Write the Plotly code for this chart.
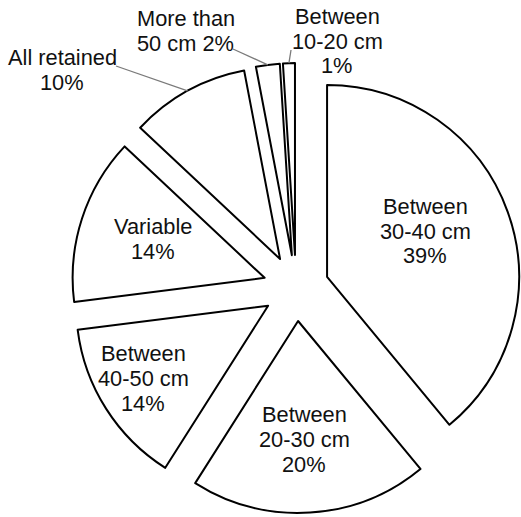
import math
import plotly.graph_objects as go

# Share of respondents by retained length, listed clockwise from 12 o'clock
categories = ["Between 30-40 cm", "Between 20-30 cm", "Between 40-50 cm",
              "Variable", "All retained", "More than 50 cm", "Between 10-20 cm"]
shares = [39, 20, 14, 14, 10, 2, 1]

# How each label is broken into lines (percent appended to the last line part)
label_lines = [
    ["Between", "30-40 cm", "{p}%"],
    ["Between", "20-30 cm", "{p}%"],
    ["Between", "40-50 cm", "{p}%"],
    ["Variable", "{p}%"],
    ["All retained", "{p}%"],
    ["More than", "50 cm {p}%"],
    ["Between", "10-20 cm", "{p}%"],
]

# Figure / pie geometry
W, H = 521, 517
PULL = 0.172
DOM_X = [0.1363, 1.0]
DOM_Y = [0.0, 0.8857]
FONT = "Liberation Sans, Arial, sans-serif"
FS = 21.8
LINE_GAP = 25

# Label block centres (pixels) and which labels sit outside with a leader line
label_pos = [(425, 231), (304, 439), (143, 378), (153, 239),
             (62, 70), (186, 31), (337, 41)]
leader_start = {4: (116, 66), 5: (233, 49), 6: (291, 50)}

fig = go.Figure(go.Pie(
    labels=categories,
    values=shares,
    sort=False,
    direction="clockwise",
    rotation=0,
    pull=[PULL] * len(shares),
    textinfo="none",
    hoverinfo="label+percent",
    marker=dict(colors=["white"] * len(shares),
                line=dict(color="black", width=2)),
    domain=dict(x=DOM_X, y=DOM_Y),
    showlegend=False,
))

# Pie centre and radius as plotly lays them out
cx = W * (DOM_X[0] + DOM_X[1]) / 2
cy = H * (1 - (DOM_Y[0] + DOM_Y[1]) / 2)
r = min(W * (DOM_X[1] - DOM_X[0]), H * (DOM_Y[1] - DOM_Y[0])) / (2 + 2 * PULL)

total = sum(shares)
cum = 0
annotations = []
shapes = []
for i, v in enumerate(shares):
    mid = 2 * math.pi * (cum + v / 2) / total
    cum += v
    lines = [s.format(p=v) for s in label_lines[i]]
    bx, by = label_pos[i]
    n = len(lines)
    for k, line in enumerate(lines):
        ly = by + (k - (n - 1) / 2) * LINE_GAP
        annotations.append(dict(
            x=bx / W, y=1 - ly / H, xref="paper", yref="paper",
            text=line, showarrow=False, xanchor="center", yanchor="middle",
            font=dict(family=FONT, size=FS, color="#111111"),
        ))
    if i in leader_start:
        sx, sy = leader_start[i]
        ex = cx + r * (1 + PULL) * math.sin(mid)
        ey = cy - r * (1 + PULL) * math.cos(mid)
        shapes.append(dict(
            type="line", xref="paper", yref="paper",
            x0=sx / W, y0=1 - sy / H, x1=ex / W, y1=1 - ey / H,
            line=dict(color="#7a7a7a", width=1.3),
        ))

fig.update_layout(
    width=W, height=H,
    margin=dict(l=0, r=0, t=0, b=0),
    paper_bgcolor="white",
    plot_bgcolor="white",
    annotations=annotations,
    shapes=shapes,
)

fig.write_html("out.html")
